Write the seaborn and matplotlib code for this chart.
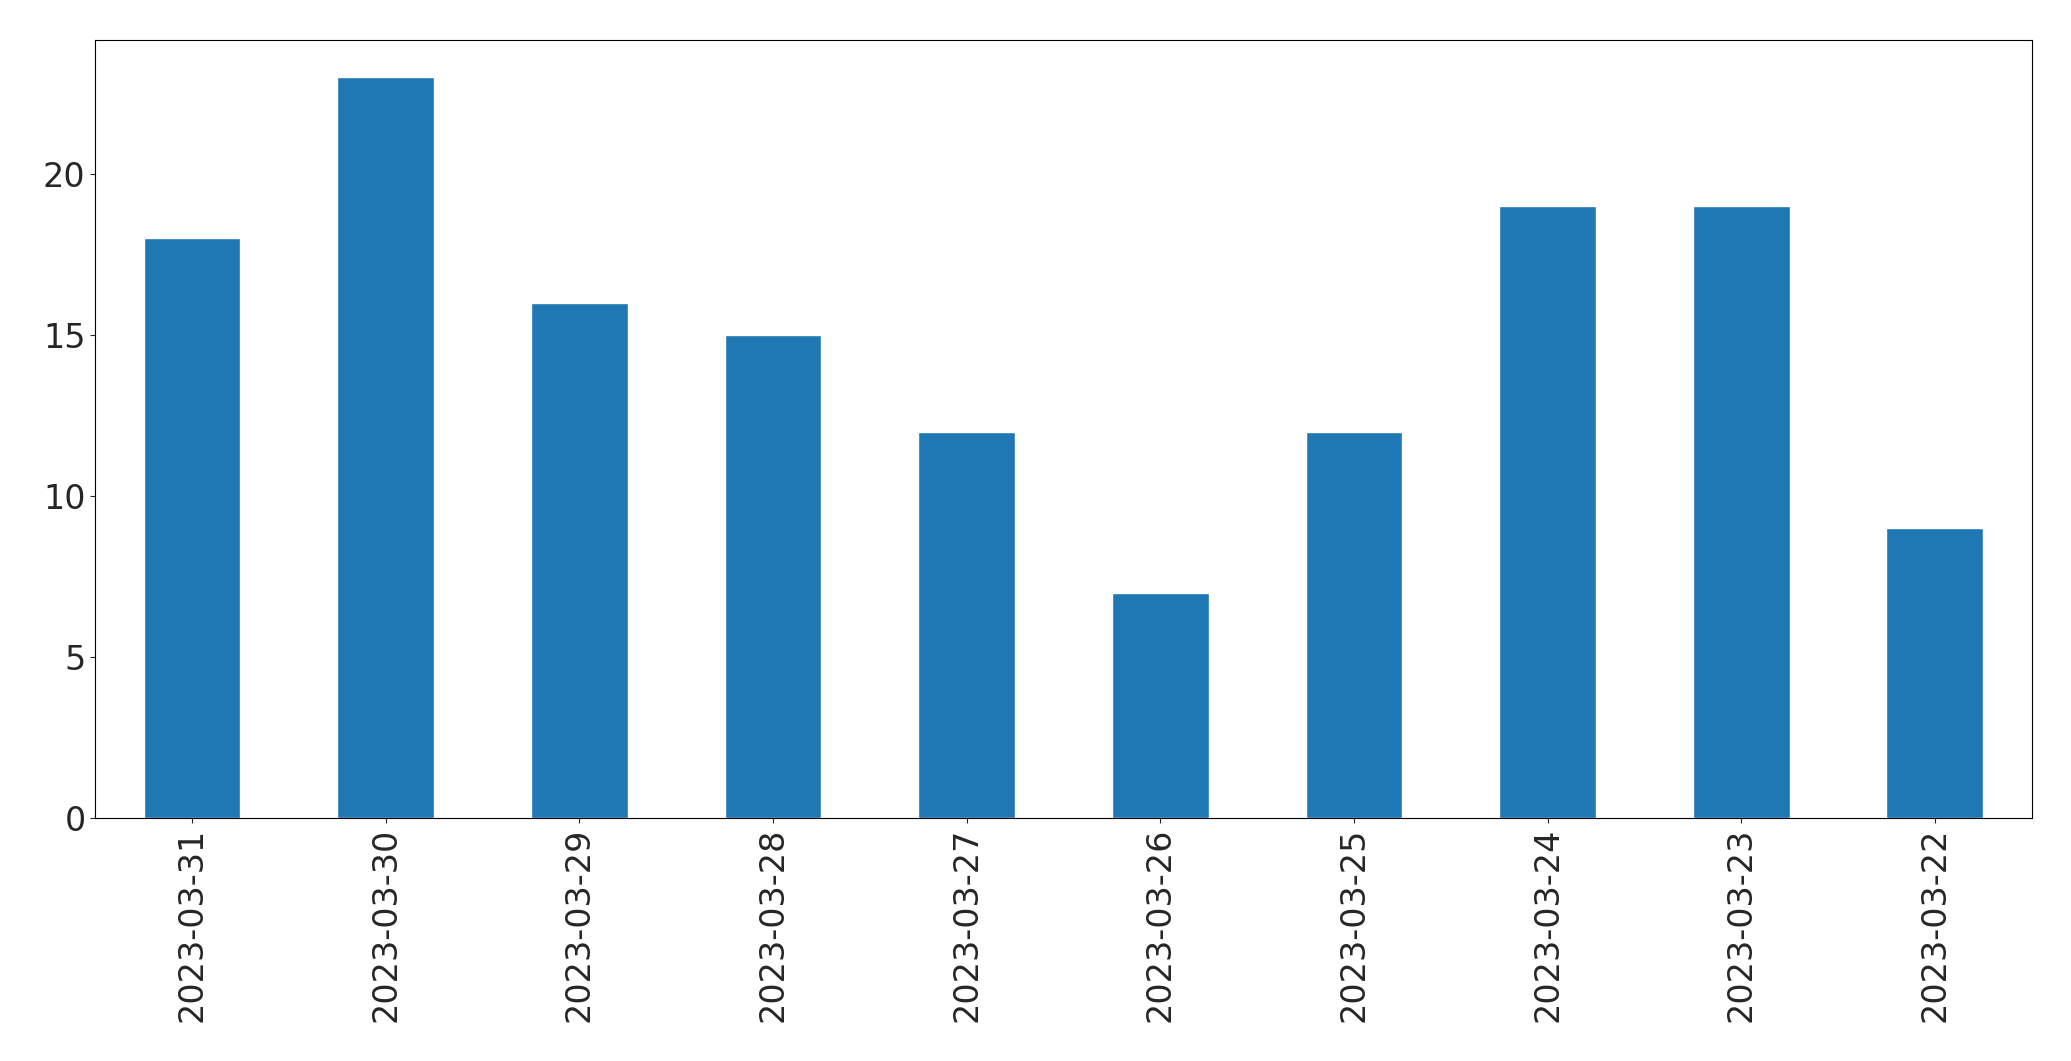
import matplotlib
matplotlib.use("Agg")
import matplotlib.pyplot as plt
import pandas as pd
import seaborn as sns

dates = ['2023-03-31', '2023-03-30', '2023-03-29', '2023-03-28', '2023-03-27',
         '2023-03-26', '2023-03-25', '2023-03-24', '2023-03-23', '2023-03-22']
counts = [18, 23, 16, 15, 12, 7, 12, 19, 19, 9]

df = pd.DataFrame({'date': dates, 'count': counts})

sns.set_style('ticks')
plt.rcParams['font.family'] = ['DejaVu Sans']

fig = plt.figure(figsize=(20.71, 10.61), dpi=100)
ax = fig.add_axes([0.046, 0.229, 0.935, 0.733])
sns.barplot(data=df, x='date', y='count', order=dates, color='#1f77b4',
            saturation=1, width=0.5, ax=ax)
ax.set_xlim(-0.5, len(dates) - 0.5)
ax.set_ylim(0, 24.15)
ax.set_xlabel('')
ax.set_ylabel('')
ax.tick_params(axis='x', labelrotation=90, labelsize=24)
ax.tick_params(axis='y', labelsize=24)
for s in ax.spines.values():
    s.set_visible(True)
    s.set_color('black')
fig.savefig('out.png', dpi=100)
